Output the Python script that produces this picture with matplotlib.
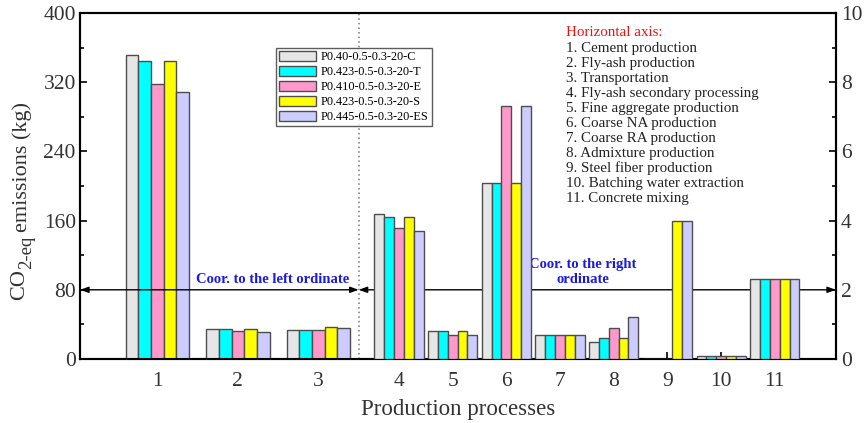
import numpy as np
import matplotlib.pyplot as plt
from matplotlib.patches import Patch

plt.rcParams['font.family'] = ['Liberation Serif', 'DejaVu Serif']

# mix designs
series = ['P0.40-0.5-0.3-20-C', 'P0.423-0.5-0.3-20-T', 'P0.410-0.5-0.3-20-E',
          'P0.423-0.5-0.3-20-S', 'P0.445-0.5-0.3-20-ES']
colors = ['#e6e6e6', '#00ffff', '#ff99cc', '#ffff00', '#ccccff']

# processes 1-3 read on the left ordinate (kg)
left_groups = ['1', '2', '3']
left_vals = [
    [352, 35, 33.5],
    [345, 34.5, 33],
    [318, 32, 33],
    [345, 34.5, 37],
    [309, 31, 36],
]

# processes 4-11 read on the right ordinate (kg)
right_groups = ['4', '5', '6', '7', '8', '9', '10', '11']
right_vals = [
    [4.2, 0.8, 5.1, 0.7, 0.5, 0, 0.1, 2.3],
    [4.1, 0.8, 5.1, 0.7, 0.6, 0, 0.1, 2.3],
    [3.8, 0.7, 7.3, 0.7, 0.9, 0, 0.1, 2.3],
    [4.1, 0.8, 5.1, 0.7, 0.6, 4.0, 0.1, 2.3],
    [3.7, 0.7, 7.3, 0.7, 1.2, 4.0, 0.1, 2.3],
]

legend_title = 'Horizontal axis:'
process_names = ['1. Cement production', '2. Fly-ash production', '3. Transportation',
                 '4. Fly-ash secondary processing', '5. Fine aggregate production',
                 '6. Coarse NA production', '7. Coarse RA production',
                 '8. Admixture production', '9. Steel fiber production',
                 '10. Batching water extraction', '11. Concrete mixing']

xl = np.array([1.5, 3.0, 4.5])
xr = np.arange(6, 14)
wl = 0.236
wr = 0.183
split = 5.25
x0, x1 = 0.06, 14.14

W, H = 864, 423
fig = plt.figure(figsize=(W / 100, H / 100), dpi=100)
ax = fig.add_axes([80 / W, 1 - 359 / H, 756 / W, 346 / H])
ax2 = ax.twinx()

edge = '#4d4d4d'
for i in range(5):
    ax.bar(xl + (i - 2) * wl, left_vals[i], wl, color=colors[i], edgecolor=edge, lw=1, zorder=3)
    ax2.bar(xr + (i - 2) * wr, right_vals[i], wr, color=colors[i], edgecolor=edge, lw=1, zorder=3)

ax.set_xlim(x0, x1)
ax.set_ylim(0, 400)
ax2.set_ylim(0, 10)
ax.set_yticks(np.arange(0, 401, 80))
ax.set_yticks(np.arange(0, 401, 40), minor=True)
ax2.set_yticks(np.arange(0, 11, 2))
ax2.set_yticks(np.arange(0, 11, 1), minor=True)
ax.set_xticks(np.concatenate([xl, xr]))
ax.set_xticklabels(left_groups + right_groups)

tc = '#333333'
for a in (ax, ax2):
    a.tick_params(which='both', direction='in', labelsize=15.5, labelcolor=tc, width=1.2)
    a.tick_params(which='major', length=5)
    a.tick_params(which='minor', length=3)
    for s in a.spines.values():
        s.set_linewidth(1.5)
ax.tick_params(axis='x', pad=9)
ax.tick_params(axis='y', pad=3)

ax.set_xlabel('Production processes', fontsize=16.5, color=tc, labelpad=6)

# y label built from pieces, stacked bottom to top
renderer = fig.canvas.get_renderer()
pieces = [('CO', 16, 20, 0), ('2-eq', 13.5, 27, 0), ('emissions (kg)', 16, 22, 4)]
y_px = 300
for s, size, xc, gap in pieces:
    t = fig.text(xc / W, 1 - (y_px - gap) / H, s, rotation=90, fontsize=size,
                 color=tc, ha='center', va='bottom')
    bb = t.get_window_extent(renderer)
    y_px = H - bb.y1

# divider and reading guides
ax.axvline(split, color='#777777', ls=(0, (1, 2)), lw=1.1, zorder=1)
arr = dict(arrowstyle='<|-|>,head_length=0.5,head_width=0.18', color='black', lw=1,
           shrinkA=0, shrinkB=0)
ax.annotate('', xy=(x0, 80), xytext=(split, 80), arrowprops=arr, zorder=4)
ax.annotate('', xy=(x1, 80), xytext=(split, 80), arrowprops=arr, zorder=4)
ax.text(3.65, 84, 'Coor. to the left ordinate', color='#1a1adf', fontsize=10.5,
        fontweight='bold', ha='center', va='bottom', zorder=5)
ax.text(9.43, 84, 'Coor. to the right\nordinate', color='#1a1adf', fontsize=10.5,
        fontweight='bold', ha='center', va='bottom', multialignment='center',
        linespacing=1.2, zorder=5)

handles = [Patch(facecolor=c, edgecolor=edge, lw=1) for c in colors]
leg = ax.legend(handles, series, loc='upper left', bbox_to_anchor=(0.259, 0.9),
                fontsize=8.8, frameon=True, fancybox=False, edgecolor='#333333',
                handlelength=3.0, handleheight=0.9, handletextpad=0.45,
                labelspacing=0.22, borderpad=0.25, borderaxespad=0)
leg.get_frame().set_linewidth(1)
leg.set_zorder(6)

fig.text(566 / W, 1 - 33 / H, legend_title, color='#ee1111', fontsize=10.8, va='center')
for k, name in enumerate(process_names):
    fig.text(566 / W, 1 - (48.2 + 15.05 * k) / H, name, color='#222222',
             fontsize=10.8, va='center')

fig.savefig('out.png', dpi=100)
